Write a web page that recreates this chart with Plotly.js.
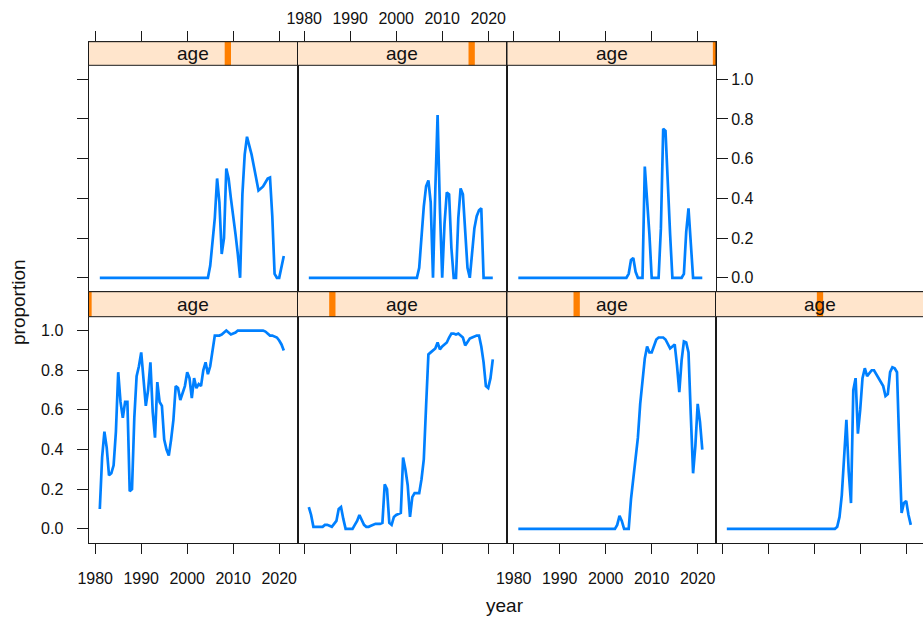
<!DOCTYPE html>
<html>
<head>
<meta charset="utf-8">
<script src="https://cdn.plot.ly/plotly-3.0.1.min.js"></script>
<style>
  html, body { margin: 0; padding: 0; overflow: hidden; background: #ffffff; }
</style>
</head>
<body>
<div id="chart"></div>
<script>
// Half-year sampling points shared by every panel
const years = [
  1981, 1981.5, 1982, 1982.5, 1983, 1983.5, 1984, 1984.5, 1985, 1985.5,
  1986, 1986.5, 1987, 1987.5, 1988, 1988.5, 1989, 1989.5, 1990, 1990.5,
  1991, 1991.5, 1992, 1992.5, 1993, 1993.5, 1994, 1994.5, 1995, 1995.5,
  1996, 1996.5, 1997, 1997.5, 1998, 1998.5, 1999, 1999.5, 2000, 2000.5,
  2001, 2001.5, 2002, 2002.5, 2003, 2003.5, 2004, 2004.5, 2005, 2005.5,
  2006, 2006.5, 2007, 2007.5, 2008, 2008.5, 2009, 2009.5, 2010, 2010.5,
  2011, 2011.5, 2012, 2012.5, 2013, 2013.5, 2014, 2014.5, 2015, 2015.5,
  2016, 2016.5, 2017, 2017.5, 2018, 2018.5, 2019, 2019.5, 2020, 2020.5,
  2021
];

// Proportion by age level (levels 1..7)
const propAge1 = [
  0.10, 0.36, 0.49, 0.41, 0.27, 0.28, 0.32, 0.49, 0.79, 0.64,
  0.56, 0.64, 0.64, 0.19, 0.20, 0.56, 0.77, 0.82, 0.89, 0.75,
  0.62, 0.70, 0.84, 0.59, 0.46, 0.74, 0.64, 0.62, 0.45, 0.40,
  0.37, 0.45, 0.55, 0.72, 0.71, 0.65, 0.68, 0.72, 0.79, 0.76,
  0.66, 0.76, 0.71, 0.73, 0.72, 0.80, 0.84, 0.78, 0.82, 0.91,
  0.975, 0.975, 0.975, 0.98, 0.99, 1.0, 0.99, 0.98, 0.985, 0.99,
  1.0, 1.0, 1.0, 1.0, 1.0, 1.0, 1.0, 1.0, 1.0, 1.0,
  1.0, 1.0, 0.995, 0.985, 0.975, 0.975, 0.97, 0.965, 0.95, 0.93,
  0.90
];
const propAge2 = [
  0.11, 0.07, 0.01, 0.01, 0.01, 0.01, 0.01, 0.02, 0.02, 0.015,
  0.01, 0.025, 0.04, 0.10, 0.11, 0.05, 0.0, 0.0, 0.0, 0.0,
  0.02, 0.04, 0.07, 0.04, 0.02, 0.01, 0.01, 0.015, 0.02, 0.025,
  0.025, 0.025, 0.03, 0.225, 0.20, 0.03, 0.02, 0.06, 0.07, 0.075,
  0.08, 0.36, 0.30, 0.22, 0.06, 0.16, 0.18, 0.18, 0.18, 0.25,
  0.35, 0.62, 0.88, 0.89, 0.90, 0.91, 0.94, 0.905, 0.92, 0.93,
  0.94, 0.965, 0.985, 0.985, 0.98, 0.985, 0.975, 0.965, 0.925, 0.94,
  0.96, 0.965, 0.97, 0.975, 0.975, 0.92, 0.84, 0.72, 0.71, 0.76,
  0.855
];
const propAge3 = [
  0, 0, 0, 0, 0, 0, 0, 0, 0, 0,
  0, 0, 0, 0, 0, 0, 0, 0, 0, 0,
  0, 0, 0, 0, 0, 0, 0, 0, 0, 0,
  0, 0, 0, 0, 0, 0, 0, 0, 0, 0,
  0, 0, 0, 0.02, 0.065, 0.04, 0, 0, 0, 0.15,
  0.25, 0.34, 0.46, 0.63, 0.76, 0.86, 0.92, 0.89, 0.89, 0.92,
  0.955, 0.965, 0.965, 0.965, 0.955, 0.935, 0.91, 0.92, 0.93, 0.825,
  0.69, 0.85, 0.945, 0.94, 0.89, 0.575, 0.28, 0.42, 0.63, 0.54,
  0.40
];
const propAge4 = [
  0, 0, 0, 0, 0, 0, 0, 0, 0, 0,
  0, 0, 0, 0, 0, 0, 0, 0, 0, 0,
  0, 0, 0, 0, 0, 0, 0, 0, 0, 0,
  0, 0, 0, 0, 0, 0, 0, 0, 0, 0,
  0, 0, 0, 0, 0, 0, 0, 0, 0.01, 0.06,
  0.17, 0.39, 0.55, 0.29, 0.13, 0.70, 0.76, 0.48, 0.60, 0.76,
  0.81, 0.77, 0.785, 0.80, 0.80, 0.78, 0.76, 0.74, 0.72, 0.67,
  0.68, 0.79, 0.815, 0.81, 0.79, 0.42, 0.08, 0.13, 0.14, 0.07,
  0.02
];
const propAge5 = [
  0, 0, 0, 0, 0, 0, 0, 0, 0, 0,
  0, 0, 0, 0, 0, 0, 0, 0, 0, 0,
  0, 0, 0, 0, 0, 0, 0, 0, 0, 0,
  0, 0, 0, 0, 0, 0, 0, 0, 0, 0,
  0, 0, 0, 0, 0, 0, 0, 0, 0.06, 0.18,
  0.30, 0.50, 0.38, 0.12, 0.20, 0.55, 0.50, 0.40, 0.32, 0.22,
  0.12, 0.0, 0.42, 0.62, 0.71, 0.67, 0.62, 0.56, 0.49, 0.44,
  0.45, 0.46, 0.48, 0.50, 0.505, 0.31, 0.02, 0.0, 0.0, 0.06,
  0.11
];
const propAge6 = [
  0, 0, 0, 0, 0, 0, 0, 0, 0, 0,
  0, 0, 0, 0, 0, 0, 0, 0, 0, 0,
  0, 0, 0, 0, 0, 0, 0, 0, 0, 0,
  0, 0, 0, 0, 0, 0, 0, 0, 0, 0,
  0, 0, 0, 0, 0, 0, 0, 0, 0.05, 0.23,
  0.36, 0.46, 0.49, 0.38, 0.0, 0.44, 0.82, 0.35, 0.0, 0.27,
  0.43, 0.42, 0.15, 0.0, 0.0, 0.30, 0.45, 0.42, 0.20, 0.05,
  0.0, 0.12, 0.25, 0.31, 0.34, 0.35, 0.0, 0.0, 0.0, 0.0,
  0.0
];
const propAge7 = [
  0, 0, 0, 0, 0, 0, 0, 0, 0, 0,
  0, 0, 0, 0, 0, 0, 0, 0, 0, 0,
  0, 0, 0, 0, 0, 0, 0, 0, 0, 0,
  0, 0, 0, 0, 0, 0, 0, 0, 0, 0,
  0, 0, 0, 0, 0, 0, 0, 0, 0.02, 0.09,
  0.10, 0.03, 0, 0, 0, 0.56, 0.40, 0.22, 0, 0,
  0, 0, 0.25, 0.75, 0.74, 0.45, 0.22, 0, 0, 0,
  0, 0, 0.02, 0.23, 0.35, 0.15, 0, 0, 0, 0,
  0
];

const stripText = 'age';
const xTitle = 'year';
const yTitle = 'proportion';
const yearTicks = [1980, 1990, 2000, 2010, 2020];
const propTicks = [0, 0.2, 0.4, 0.6, 0.8, 1.0];
const propTickText = ['0.0', '0.2', '0.4', '0.6', '0.8', '1.0'];

// ---- page geometry (pixels) ----
const W = 926, H = 620;
const colLeft = [88.5, 297.5, 507, 715.5];
const colW = 209;
const rowGeom = {
  top:    { stripTop: 41.7,  plotTop: 65.3,  plotBottom: 291.7 },
  bottom: { stripTop: 291.7, plotTop: 316.7, plotBottom: 542.7 }
};
const xRange = [1978.54, 2023.98];
const yLo = -0.07, yHi = 1.07;

const lineColor = '#0080ff';
const boxColor = '#1a1a1a';
const stripFill = '#ffe5cc';
const levelColor = '#ff7f00';
const textColor = '#111111';
const fontFamily = '"Liberation Sans", Arial, sans-serif';

// panel order follows the lattice layout: bottom row first, left to right
const panels = [
  { y: propAge1, row: 'bottom', col: 0, xAxis: 'labels', xSide: 'bottom', yAxis: 'labels', ySide: 'left'  },
  { y: propAge2, row: 'bottom', col: 1, xAxis: 'ticks',  xSide: 'bottom', yAxis: 'none',   ySide: 'left'  },
  { y: propAge3, row: 'bottom', col: 2, xAxis: 'labels', xSide: 'bottom', yAxis: 'none',   ySide: 'left'  },
  { y: propAge4, row: 'bottom', col: 3, xAxis: 'ticks',  xSide: 'bottom', yAxis: 'none',   ySide: 'left'  },
  { y: propAge5, row: 'top',    col: 0, xAxis: 'ticks',  xSide: 'top',    yAxis: 'ticks',  ySide: 'left'  },
  { y: propAge6, row: 'top',    col: 1, xAxis: 'labels', xSide: 'top',    yAxis: 'none',   ySide: 'left'  },
  { y: propAge7, row: 'top',    col: 2, xAxis: 'ticks',  xSide: 'top',    yAxis: 'labels', ySide: 'right' }
];
const nLevels = panels.length;

const px2fx = px => px / W;
const py2fy = py => 1 - py / H;

const data = [];
const layout = {
  width: W, height: H,
  margin: { l: 0, r: 0, t: 0, b: 0, pad: 0 },
  paper_bgcolor: '#ffffff',
  plot_bgcolor: 'rgba(0,0,0,0)',
  showlegend: false,
  font: { family: fontFamily, color: textColor, size: 16 },
  shapes: [],
  annotations: []
};

panels.forEach((p, i) => {
  const n = i + 1;
  const sfx = n === 1 ? '' : String(n);
  const g = rowGeom[p.row];
  const left = colLeft[p.col], right = left + colW;
  const plotH = g.plotBottom - g.plotTop;
  const perUnit = plotH / (yHi - yLo);
  const yTop = yHi + (g.plotTop - g.stripTop) / perUnit;   // axis reaches up over the strip

  data.push({
    type: 'scatter', mode: 'lines',
    x: years, y: p.y,
    xaxis: 'x' + sfx, yaxis: 'y' + sfx,
    line: { color: lineColor, width: 2.7 },
    hoverinfo: 'skip'
  });

  layout['xaxis' + sfx] = {
    domain: [px2fx(left), px2fx(right)],
    anchor: 'y' + sfx,
    range: xRange,
    side: p.xSide,
    showline: true, mirror: true, linecolor: boxColor, linewidth: 1,
    ticks: p.xAxis === 'none' ? '' : 'outside',
    ticklen: 10, tickwidth: 1, tickcolor: boxColor,
    tickvals: yearTicks,
    ticktext: yearTicks.map(String),
    showticklabels: p.xAxis === 'labels',
    ticklabelstandoff: p.xSide === 'bottom' ? 11 : 0,
    tickfont: { size: 16, color: textColor, family: fontFamily },
    showgrid: false, zeroline: false, fixedrange: true
  };
  layout['yaxis' + sfx] = {
    domain: [py2fy(g.plotBottom), py2fy(g.stripTop)],
    anchor: 'x' + sfx,
    range: [yLo, yTop],
    side: p.ySide,
    showline: true, mirror: true, linecolor: boxColor, linewidth: 1,
    ticks: p.yAxis === 'none' ? '' : 'outside',
    ticklen: 11, tickwidth: 1, tickcolor: boxColor,
    tickvals: propTicks,
    ticktext: propTickText,
    showticklabels: p.yAxis === 'labels',
    ticklabelstandoff: p.ySide === 'left' ? 10 : 0,
    tickfont: { size: 16, color: textColor, family: fontFamily },
    showgrid: false, zeroline: false, fixedrange: true
  };

  // strip background
  const sx0 = px2fx(left), sx1 = px2fx(right);
  const sy0 = py2fy(g.plotTop), sy1 = py2fy(g.stripTop);
  layout.shapes.push({
    type: 'rect', xref: 'paper', yref: 'paper',
    x0: sx0, x1: sx1, y0: sy0, y1: sy1,
    fillcolor: stripFill, line: { width: 0 }, layer: 'above'
  });
  // level marker inside the strip
  const frac = i / (nLevels - 1);
  const markW = 6.3;
  const mc = left + frac * colW;
  const m0 = Math.max(left, mc - markW / 2), m1 = Math.min(right, mc + markW / 2);
  layout.shapes.push({
    type: 'rect', xref: 'paper', yref: 'paper',
    x0: px2fx(m0), x1: px2fx(m1), y0: sy0, y1: sy1,
    fillcolor: levelColor, line: { width: 0 }, layer: 'above'
  });
  // strip outline
  layout.shapes.push({
    type: 'rect', xref: 'paper', yref: 'paper',
    x0: sx0, x1: sx1, y0: sy0, y1: sy1,
    fillcolor: 'rgba(0,0,0,0)', line: { color: boxColor, width: 1 }, layer: 'above'
  });
  layout.annotations.push({
    xref: 'paper', yref: 'paper',
    x: (sx0 + sx1) / 2, y: (sy0 + sy1) / 2,
    xanchor: 'center', yanchor: 'middle',
    text: stripText, showarrow: false,
    font: { size: 19, color: textColor, family: fontFamily }
  });
});

layout.annotations.push({
  xref: 'paper', yref: 'paper',
  x: px2fx(505), y: py2fy(605), xanchor: 'center', yanchor: 'middle',
  text: xTitle, showarrow: false,
  font: { size: 19, color: textColor, family: fontFamily }
});
layout.annotations.push({
  xref: 'paper', yref: 'paper',
  x: px2fx(18), y: py2fy(302), xanchor: 'center', yanchor: 'middle',
  text: yTitle, textangle: -90, showarrow: false,
  font: { size: 19, color: textColor, family: fontFamily }
});

Plotly.newPlot('chart', data, layout, { displayModeBar: false, staticPlot: true });
</script>
</body>
</html>
